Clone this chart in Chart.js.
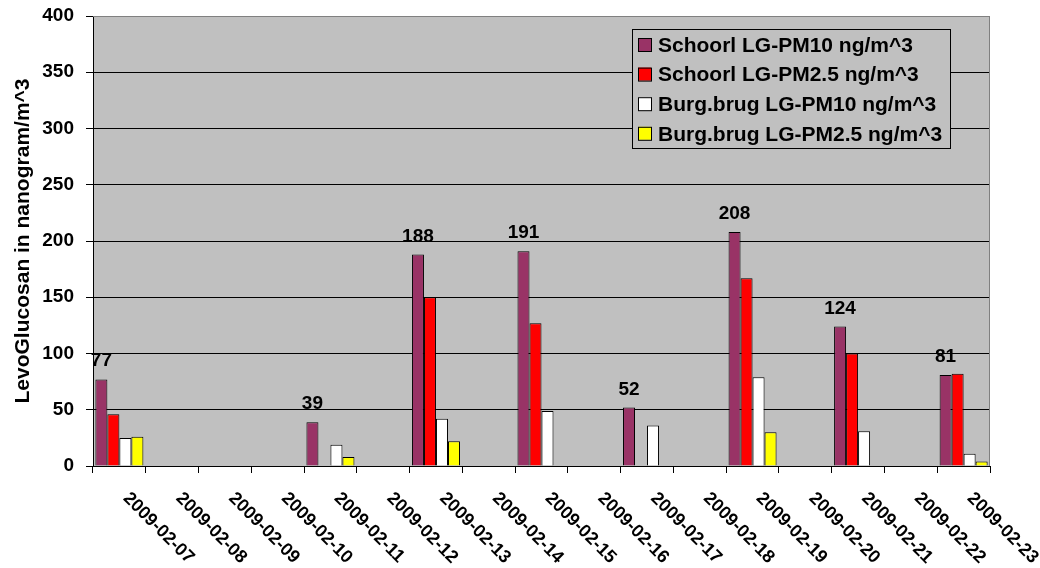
<!DOCTYPE html>
<html>
<head>
<meta charset="utf-8">
<script src="https://cdn.jsdelivr.net/npm/chart.js"></script>
<style>
  html, body { margin: 0; padding: 0; background: #ffffff; }
  #wrap { width: 1040px; height: 568px; }
</style>
</head>
<body>
<div id="wrap"><canvas id="chart" width="1040" height="568"></canvas></div>
<script>
// Dates on the x axis
const dates = [
  "2009-02-07", "2009-02-08", "2009-02-09", "2009-02-10", "2009-02-11",
  "2009-02-12", "2009-02-13", "2009-02-14", "2009-02-15", "2009-02-16",
  "2009-02-17", "2009-02-18", "2009-02-19", "2009-02-20", "2009-02-21",
  "2009-02-22", "2009-02-23"
];

// Series values (ng/m^3), null = no measurement
const schoorlPM10 = [77, null, null, null, 39, null, 188, null, 191, null, 52, null, 208, null, 124, null, 81];
const schoorlPM25 = [46, null, null, null, null, null, 150, null, 127, null, null, null, 167, null, 100, null, 82];
const burgPM10 = [25, null, null, null, 19, null, 42, null, 49, null, 36, null, 79, null, 31, null, 11];
const burgPM25 = [26, null, null, null, 8, null, 22, null, null, null, null, null, 30, null, null, null, 4];

const seriesNames = [
  "Schoorl LG-PM10 ng/m^3",
  "Schoorl LG-PM2.5 ng/m^3",
  "Burg.brug LG-PM10 ng/m^3",
  "Burg.brug LG-PM2.5 ng/m^3"
];
const seriesColors = ["#993366", "#FF0000", "#FFFFFF", "#FFFF00"];

const yMin = 0;
const yMax = 400;
const yStep = 50;

const FONT = "'Liberation Sans', Arial, sans-serif";

// Gray plot area with gray top/right border
const plotBackground = {
  id: "plotBackground",
  beforeDraw(chart) {
    const { ctx, chartArea: a } = chart;
    ctx.save();
    ctx.fillStyle = "#C0C0C0";
    ctx.fillRect(a.left, a.top, a.right - a.left, a.bottom - a.top);
    ctx.restore();
  },
  afterDraw(chart) {
    const { ctx, chartArea: a } = chart;
    ctx.save();
    ctx.strokeStyle = "#808080";
    ctx.lineWidth = 1;
    ctx.beginPath();
    ctx.moveTo(a.left, a.top + 0.5);
    ctx.lineTo(a.right - 0.5, a.top + 0.5);
    ctx.lineTo(a.right - 0.5, a.bottom);
    ctx.stroke();
    ctx.restore();
  }
};

// Value labels above the first series
const valueLabels = {
  id: "valueLabels",
  afterDatasetsDraw(chart) {
    const { ctx } = chart;
    const meta = chart.getDatasetMeta(0);
    ctx.save();
    ctx.font = "bold 19px " + FONT;
    ctx.fillStyle = "#000";
    ctx.textAlign = "center";
    ctx.textBaseline = "alphabetic";
    meta.data.forEach((bar, i) => {
      const v = chart.data.datasets[0].data[i];
      if (v === null) return;
      ctx.fillText(String(v), bar.x, bar.y - 13);
    });
    ctx.restore();
  }
};

// Rotated date labels (reading down-right from each category)
const dateLabels = {
  id: "dateLabels",
  afterDraw(chart) {
    const { ctx } = chart;
    const xs = chart.scales.x;
    ctx.save();
    ctx.font = "bold 18px " + FONT;
    ctx.fillStyle = "#000";
    ctx.textAlign = "left";
    ctx.textBaseline = "alphabetic";
    chart.data.labels.forEach((lab, i) => {
      const x = xs.getPixelForValue(i) + 3;
      const y = xs.top + 33;
      ctx.save();
      ctx.translate(x, y);
      ctx.rotate(Math.PI / 4);
      ctx.fillText(lab, 0, 0);
      ctx.restore();
    });
    ctx.restore();
  }
};

// Legend box inside the plot
const boxLegend = {
  id: "boxLegend",
  afterDraw(chart) {
    const { ctx, chartArea: a } = chart;
    const left = a.right - 358;
    const top = a.top + 13;
    const w = 318;
    const h = 119;
    ctx.save();
    ctx.fillStyle = "#C0C0C0";
    ctx.fillRect(left, top, w, h);
    ctx.strokeStyle = "#000";
    ctx.lineWidth = 1;
    ctx.strokeRect(left + 0.5, top + 0.5, w, h);
    ctx.font = "bold 21px " + FONT;
    ctx.textAlign = "left";
    ctx.textBaseline = "middle";
    chart.data.datasets.forEach((ds, i) => {
      const cy = top + 16 + i * 29.6;
      ctx.fillStyle = ds.backgroundColor;
      ctx.fillRect(left + 6, cy - 7, 13, 13);
      ctx.strokeStyle = "#000";
      ctx.strokeRect(left + 6.5, cy - 6.5, 13, 13);
      ctx.fillStyle = "#000";
      ctx.fillText(ds.label, left + 26, cy + 1);
    });
    ctx.restore();
  }
};

const allSeries = [schoorlPM10, schoorlPM25, burgPM10, burgPM25];

new Chart(document.getElementById("chart").getContext("2d"), {
  type: "bar",
  data: {
    labels: dates,
    datasets: allSeries.map((vals, i) => ({
      label: seriesNames[i],
      data: vals,
      backgroundColor: seriesColors[i],
      borderColor: "#000",
      borderWidth: 1,
      categoryPercentage: 0.91,
      barPercentage: 1.0
    }))
  },
  options: {
    responsive: false,
    maintainAspectRatio: false,
    animation: false,
    devicePixelRatio: 1,
    layout: { padding: { top: 16, right: 50, left: 0, bottom: 0 } },
    plugins: {
      legend: { display: false },
      tooltip: { enabled: false }
    },
    scales: {
      x: {
        type: "category",
        offset: true,
        grid: {
          offset: true,
          drawOnChartArea: false,
          drawTicks: true,
          tickLength: 7,
          tickColor: "#000"
        },
        border: { display: true, color: "#000", width: 1 },
        ticks: { display: false },
        afterFit(scale) {
          scale.height = 102;
          scale.paddingLeft = 0;
          scale.paddingRight = 0;
        }
      },
      y: {
        min: yMin,
        max: yMax,
        ticks: {
          stepSize: yStep,
          color: "#000",
          padding: 12,
          font: { family: FONT, size: 19, weight: "bold" }
        },
        grid: {
          color: (c) => (c.tick && c.tick.value === yMax ? "#808080" : "#000"),
          tickColor: "#000",
          tickLength: 7,
          lineWidth: 1
        },
        border: { display: true, color: "#000", width: 1 },
        title: {
          display: true,
          text: "LevoGlucosan in nanogram/m^3",
          color: "#000",
          font: { family: FONT, size: 21, weight: "bold" },
          padding: { top: 11, bottom: 0 }
        },
        afterFit(scale) {
          scale.width = 93;
          scale.paddingTop = 0;
          scale.paddingBottom = 0;
        }
      }
    }
  },
  plugins: [plotBackground, valueLabels, dateLabels, boxLegend]
});
</script>
</body>
</html>
